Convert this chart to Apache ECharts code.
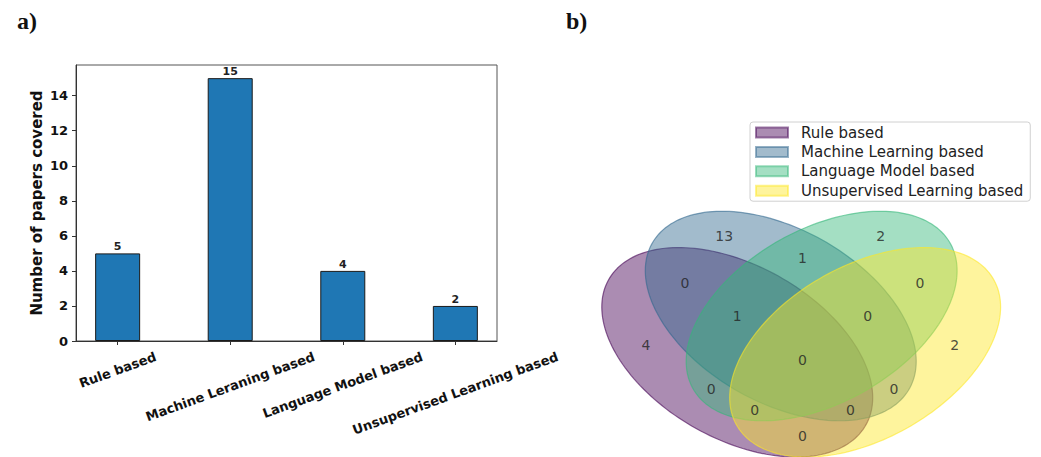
<!DOCTYPE html>
<html>
<head>
<meta charset="utf-8">
<script src="https://cdn.jsdelivr.net/npm/echarts@6/dist/echarts.min.js"></script>
<style>
html,body{margin:0;padding:0;background:#fff;}
#chart{width:1041px;height:457px;}
</style>
</head>
<body>
<div id="chart"></div>
<script>
// ---------- data ----------
const categories = ['Rule based', 'Machine Leraning based', 'Language Model based', 'Unsupervised Learning based'];
const paperCounts = [5, 15, 4, 2];
const yTicks = [0, 2, 4, 6, 8, 10, 12, 14];

const vennSetNames = ['Rule based', 'Machine Learning based', 'Language Model based', 'Unsupervised Learning based'];
const vennRegionCodes = ['1000', '0100', '0010', '0001', '1100', '1010', '1001', '0110', '0101', '0011', '1110', '1101', '1011', '0111', '1111'];
const vennCounts = [4, 13, 2, 2, 0, 0, 0, 1, 0, 0, 1, 0, 0, 0, 0];

// ---------- layout constants (4-set venn geometry, in unit square) ----------
const ELLIPSES = [
  { cx: 0.350, cy: 0.400, w: 0.72, h: 0.45, angle: 140 },
  { cx: 0.450, cy: 0.500, w: 0.72, h: 0.45, angle: 140 },
  { cx: 0.544, cy: 0.500, w: 0.72, h: 0.45, angle: 40 },
  { cx: 0.644, cy: 0.400, w: 0.72, h: 0.45, angle: 40 }
];
const LABEL_POS = {
  '0001': [0.85, 0.42], '0010': [0.68, 0.72], '0011': [0.77, 0.59], '0100': [0.32, 0.72],
  '0101': [0.71, 0.30], '0110': [0.50, 0.66], '0111': [0.65, 0.50], '1000': [0.14, 0.42],
  '1001': [0.50, 0.17], '1010': [0.29, 0.30], '1011': [0.39, 0.24], '1100': [0.23, 0.59],
  '1101': [0.61, 0.24], '1110': [0.35, 0.50], '1111': [0.50, 0.38]
};
const VIRIDIS = [[68, 1, 84], [49, 104, 142], [53, 183, 121], [253, 231, 37]];
const FILL_ALPHA = 0.45;

const ROT = 20 * Math.PI / 180;
const measureCtx = document.createElement('canvas').getContext('2d');
function textWidth(t, font) { measureCtx.font = font; return measureCtx.measureText(t).width; }

function ellipsePoints(e, api) {
  const pts = [];
  const a = e.w / 2, b = e.h / 2, t = e.angle * Math.PI / 180;
  const N = 180;
  for (let k = 0; k < N; k++) {
    const th = 2 * Math.PI * k / N;
    const x = e.cx + a * Math.cos(th) * Math.cos(t) - b * Math.sin(th) * Math.sin(t);
    const y = e.cy + a * Math.cos(th) * Math.sin(t) + b * Math.sin(th) * Math.cos(t);
    pts.push(api.coord([x, y]));
  }
  return pts;
}
function rgba(c, a) { return 'rgba(' + c[0] + ',' + c[1] + ',' + c[2] + ',' + a + ')'; }

const chart = echarts.init(document.getElementById('chart'), null, { renderer: 'svg' });

const ellipseSeries = vennSetNames.map((name, i) => ({
  type: 'custom',
  name: name,
  xAxisIndex: 1, yAxisIndex: 1,
  clip: false,
  silent: true,
  data: [[0, 0]],
  itemStyle: { color: rgba(VIRIDIS[i], FILL_ALPHA), borderColor: rgba(VIRIDIS[i], 0.5), borderWidth: 1 },
  renderItem: function (params, api) {
    return {
      type: 'polygon',
      shape: { points: ellipsePoints(ELLIPSES[i], api) },
      style: { fill: rgba(VIRIDIS[i], FILL_ALPHA), stroke: rgba(VIRIDIS[i], 0.6), lineWidth: 1.2 }
    };
  }
}));

const option = {
  animation: false,
  backgroundColor: '#ffffff',
  title: [
    { text: 'a)', left: 17, top: 9, padding: 0, textStyle: { fontFamily: 'Liberation Serif', fontWeight: 'bold', fontSize: 24, color: '#111' } },
    { text: 'b)', left: 566, top: 9, padding: 0, textStyle: { fontFamily: 'Liberation Serif', fontWeight: 'bold', fontSize: 24, color: '#111' } }
  ],
  legend: {
    orient: 'vertical', align: 'left',
    left: 750, top: 122,
    padding: [3, 7, 3, 5],
    itemWidth: 32, itemHeight: 10, itemGap: 4.4,
    borderColor: '#d0d0d0', borderWidth: 1, borderRadius: 3,
    backgroundColor: 'rgba(255,255,255,0.8)',
    icon: 'rect',
    selectedMode: false,
    textStyle: { fontFamily: 'DejaVu Sans', fontSize: 15, lineHeight: 15, color: '#222', padding: [0, 0, 0, 8] },
    data: vennSetNames
  },
  grid: [
    { left: 76, top: 65, width: 421, height: 276, show: true, borderColor: '#555', borderWidth: 1, backgroundColor: 'transparent' },
    // unit square: y=1 at 134.5px, 363px per unit (bottom part below y=0.15 lies outside the picture)
    { left: 585, top: 134.5, width: 435, height: 308.55 }
  ],
  xAxis: [
    {
      type: 'value', gridIndex: 0, min: -0.37, max: 3.37,
      axisLine: { show: true, onZero: false, lineStyle: { color: '#333', width: 1 } },
      axisTick: { show: true, customValues: [0, 1, 2, 3], length: 4, lineStyle: { color: '#333' } },
      axisLabel: { show: false },
      splitLine: { show: false }
    },
    { type: 'value', gridIndex: 1, min: 0, max: 1, show: false }
  ],
  yAxis: [
    {
      type: 'value', gridIndex: 0, min: 0, max: 15.75,
      name: 'Number of papers covered', nameLocation: 'middle', nameGap: 32,
      nameTextStyle: { fontFamily: 'DejaVu Sans', fontWeight: 'bold', fontSize: 15, color: '#111' },
      axisLine: { show: true, onZero: false, lineStyle: { color: '#333', width: 1 } },
      axisTick: { show: true, customValues: yTicks, length: 4, lineStyle: { color: '#333' } },
      axisLabel: { customValues: yTicks, margin: 8, fontFamily: 'DejaVu Sans', fontWeight: 'bold', fontSize: 13, color: '#111' },
      splitLine: { show: false }
    },
    { type: 'value', gridIndex: 1, min: 0.15, max: 1, show: false }
  ],
  series: [
    {
      type: 'bar', xAxisIndex: 0, yAxisIndex: 0,
      data: paperCounts.map((v, i) => [i, v]),
      barWidth: 45,
      itemStyle: { color: '#1f77b4', borderColor: '#1a1a1a', borderWidth: 1 },
      label: { show: true, position: 'top', distance: 1, fontFamily: 'DejaVu Sans', fontWeight: 'bold', fontSize: 11, color: '#222',
        formatter: p => String(p.value[1]) },
      silent: true
    },
    {
      type: 'custom', xAxisIndex: 0, yAxisIndex: 0, clip: false, silent: true,
      data: categories.map((c, i) => [i, 0]),
      renderItem: function (params, api) {
        const p = api.coord([api.value(0), 0]);
        const txt = categories[params.dataIndex];
        const w = textWidth(txt, 'bold 13px "DejaVu Sans"');
        const H = w * Math.sin(ROT) + 13 * Math.cos(ROT);
        return {
          type: 'text', x: p[0], y: p[1] + 9 + H / 2, rotation: ROT,
          style: { text: txt, align: 'center', verticalAlign: 'middle', fontFamily: 'DejaVu Sans', fontWeight: 'bold', fontSize: 13, fill: '#111' }
        };
      }
    },
    ...ellipseSeries,
    {
      type: 'scatter', xAxisIndex: 1, yAxisIndex: 1, silent: true, clip: false,
      symbolSize: 0,
      data: vennRegionCodes.map((c, i) => [LABEL_POS[c][0], LABEL_POS[c][1], vennCounts[i]]),
      label: { show: true, position: 'inside', fontFamily: 'DejaVu Sans', fontSize: 14, color: '#222',
        formatter: p => String(p.value[2]) },
      z: 5
    }
  ]
};
chart.setOption(option);
</script>
</body>
</html>
